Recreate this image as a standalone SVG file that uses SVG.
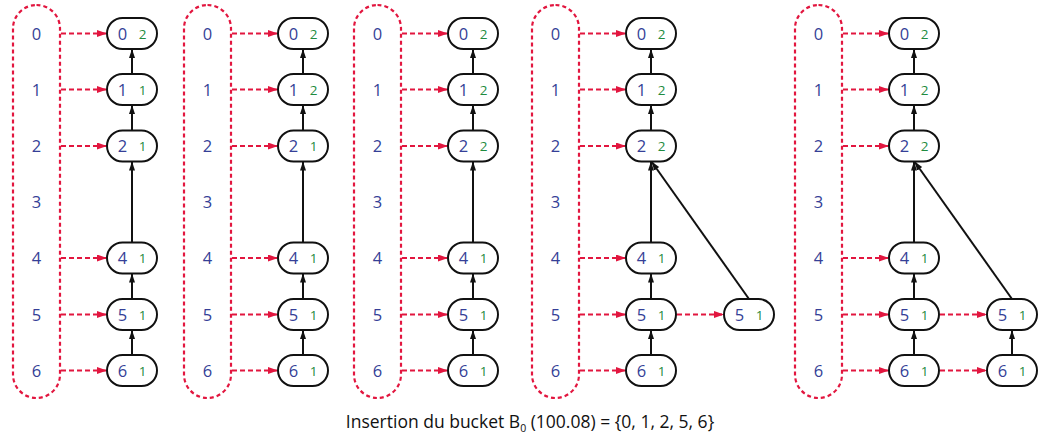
<svg xmlns="http://www.w3.org/2000/svg" width="1041" height="445" viewBox="0 0 1041 445">
<style>
.pill{fill:none;stroke:#e2163f;stroke-width:2.2;stroke-dasharray:4 3}
.lbl{font-family:"Open Sans","Noto Sans",sans-serif;font-size:16.5px;fill:#353f97;text-anchor:middle}
.box{fill:#fff;stroke:#111;stroke-width:2}
.k{font-family:"Open Sans","Noto Sans",sans-serif;font-size:16.5px;fill:#353f97;text-anchor:middle}
.c{font-family:"Open Sans","Noto Sans",sans-serif;font-size:13.5px;fill:#1f8b3f;text-anchor:middle}
.ptr{fill:none;stroke:#e2163f;stroke-width:2;stroke-dasharray:5 3;marker-end:url(#ra)}
.par{fill:none;stroke:#111;stroke-width:2;marker-end:url(#ba)}
.cap{font-family:"Open Sans","Noto Sans",sans-serif;font-size:17.5px;fill:#111}
</style>
<defs>
<marker id="ra" markerUnits="userSpaceOnUse" markerWidth="11" markerHeight="8" refX="10" refY="3.5" orient="auto"><path d="M0,0 L10,3.5 L0,7 z" fill="#e2163f"/></marker>
<marker id="ba" markerUnits="userSpaceOnUse" markerWidth="10" markerHeight="8" refX="9" refY="3" orient="auto"><path d="M0,0 L9,3 L0,6 z" fill="#111"/></marker>
<g id="bucket">
<rect class="pill" x="13" y="5" width="47" height="393" rx="23.5"/>
<text class="lbl" x="36.5" y="39.5">0</text><text class="lbl" x="36.5" y="95.5">1</text><text class="lbl" x="36.5" y="152">2</text><text class="lbl" x="36.5" y="208">3</text><text class="lbl" x="36.5" y="264">4</text><text class="lbl" x="36.5" y="320.5">5</text><text class="lbl" x="36.5" y="376.5">6</text>
</g>
</defs>
<rect width="1041" height="445" fill="#fff"/>

<g id="buckets">
<use id="p1-bucket" href="#bucket"/>
<use id="p2-bucket" href="#bucket" x="171"/>
<use id="p3-bucket" href="#bucket" x="341"/>
<use id="p4-bucket" href="#bucket" x="519"/>
<use id="p5-bucket" href="#bucket" x="782"/>
</g>

<g id="connectors">
<g transform="translate(0,0)">
<path class="ptr" d="M61,33.5H107"/><path class="ptr" d="M61,89.5H107"/><path class="ptr" d="M61,146H107"/><path class="ptr" d="M61,258H107"/><path class="ptr" d="M61,314.5H107"/><path class="ptr" d="M61,370.5H107"/>
<path class="par" d="M132,74V49"/><path class="par" d="M132,130.5V105"/><path class="par" d="M132,242.5V161.5"/><path class="par" d="M132,299V273.5"/><path class="par" d="M132,355V330"/>
</g>
<g transform="translate(171,0)">
<path class="ptr" d="M61,33.5H107"/><path class="ptr" d="M61,89.5H107"/><path class="ptr" d="M61,146H107"/><path class="ptr" d="M61,258H107"/><path class="ptr" d="M61,314.5H107"/><path class="ptr" d="M61,370.5H107"/>
<path class="par" d="M132,74V49"/><path class="par" d="M132,130.5V105"/><path class="par" d="M132,242.5V161.5"/><path class="par" d="M132,299V273.5"/><path class="par" d="M132,355V330"/>
</g>
<g transform="translate(341,0)">
<path class="ptr" d="M61,33.5H107"/><path class="ptr" d="M61,89.5H107"/><path class="ptr" d="M61,146H107"/><path class="ptr" d="M61,258H107"/><path class="ptr" d="M61,314.5H107"/><path class="ptr" d="M61,370.5H107"/>
<path class="par" d="M132,74V49"/><path class="par" d="M132,130.5V105"/><path class="par" d="M132,242.5V161.5"/><path class="par" d="M132,299V273.5"/><path class="par" d="M132,355V330"/>
</g>
<g transform="translate(519,0)">
<path class="ptr" d="M61,33.5H107"/><path class="ptr" d="M61,89.5H107"/><path class="ptr" d="M61,146H107"/><path class="ptr" d="M61,258H107"/><path class="ptr" d="M61,314.5H107"/><path class="ptr" d="M61,370.5H107"/>
<path class="ptr" d="M158,314.5H205"/>
<path class="par" d="M132,74V49"/><path class="par" d="M132,130.5V105"/><path class="par" d="M132,242.5V161.5"/><path class="par" d="M132,299V273.5"/><path class="par" d="M132,355V330"/>
<path class="par" d="M230,299L132.5,161.5"/>
</g>
<g transform="translate(782,0)">
<path class="ptr" d="M61,33.5H107"/><path class="ptr" d="M61,89.5H107"/><path class="ptr" d="M61,146H107"/><path class="ptr" d="M61,258H107"/><path class="ptr" d="M61,314.5H107"/><path class="ptr" d="M61,370.5H107"/>
<path class="ptr" d="M158,314.5H205"/><path class="ptr" d="M158,370.5H205"/>
<path class="par" d="M132,74V49"/><path class="par" d="M132,130.5V105"/><path class="par" d="M132,242.5V161.5"/><path class="par" d="M132,299V273.5"/><path class="par" d="M132,355V330"/>
<path class="par" d="M230,355V330"/>
<path class="par" d="M230,299L132.5,161.5"/>
</g>
</g>

<!-- Panel 1 -->
<g id="panel1" transform="translate(0,0)">
<g id="p1-n0"><rect class="box" x="107" y="18" width="50" height="31" rx="15.5"/><text class="k" x="122.5" y="39.5">0</text><text class="c" x="142.5" y="38.5">2</text></g>
<g id="p1-n1"><rect class="box" x="107" y="74" width="50" height="31" rx="15.5"/><text class="k" x="122.5" y="95.5">1</text><text class="c" x="142.5" y="94.5">1</text></g>
<g id="p1-n2"><rect class="box" x="107" y="130.5" width="50" height="31" rx="15.5"/><text class="k" x="122.5" y="152">2</text><text class="c" x="142.5" y="151">1</text></g>
<g id="p1-n4"><rect class="box" x="107" y="242.5" width="50" height="31" rx="15.5"/><text class="k" x="122.5" y="264">4</text><text class="c" x="142.5" y="263">1</text></g>
<g id="p1-n5"><rect class="box" x="107" y="299" width="50" height="31" rx="15.5"/><text class="k" x="122.5" y="320.5">5</text><text class="c" x="142.5" y="319.5">1</text></g>
<g id="p1-n6"><rect class="box" x="107" y="355" width="50" height="31" rx="15.5"/><text class="k" x="122.5" y="376.5">6</text><text class="c" x="142.5" y="375.5">1</text></g>
</g>

<!-- Panel 2 -->
<g id="panel2" transform="translate(171,0)">
<g id="p2-n0"><rect class="box" x="107" y="18" width="50" height="31" rx="15.5"/><text class="k" x="122.5" y="39.5">0</text><text class="c" x="142.5" y="38.5">2</text></g>
<g id="p2-n1"><rect class="box" x="107" y="74" width="50" height="31" rx="15.5"/><text class="k" x="122.5" y="95.5">1</text><text class="c" x="142.5" y="94.5">2</text></g>
<g id="p2-n2"><rect class="box" x="107" y="130.5" width="50" height="31" rx="15.5"/><text class="k" x="122.5" y="152">2</text><text class="c" x="142.5" y="151">1</text></g>
<g id="p2-n4"><rect class="box" x="107" y="242.5" width="50" height="31" rx="15.5"/><text class="k" x="122.5" y="264">4</text><text class="c" x="142.5" y="263">1</text></g>
<g id="p2-n5"><rect class="box" x="107" y="299" width="50" height="31" rx="15.5"/><text class="k" x="122.5" y="320.5">5</text><text class="c" x="142.5" y="319.5">1</text></g>
<g id="p2-n6"><rect class="box" x="107" y="355" width="50" height="31" rx="15.5"/><text class="k" x="122.5" y="376.5">6</text><text class="c" x="142.5" y="375.5">1</text></g>
</g>

<!-- Panel 3 -->
<g id="panel3" transform="translate(341,0)">
<g id="p3-n0"><rect class="box" x="107" y="18" width="50" height="31" rx="15.5"/><text class="k" x="122.5" y="39.5">0</text><text class="c" x="142.5" y="38.5">2</text></g>
<g id="p3-n1"><rect class="box" x="107" y="74" width="50" height="31" rx="15.5"/><text class="k" x="122.5" y="95.5">1</text><text class="c" x="142.5" y="94.5">2</text></g>
<g id="p3-n2"><rect class="box" x="107" y="130.5" width="50" height="31" rx="15.5"/><text class="k" x="122.5" y="152">2</text><text class="c" x="142.5" y="151">2</text></g>
<g id="p3-n4"><rect class="box" x="107" y="242.5" width="50" height="31" rx="15.5"/><text class="k" x="122.5" y="264">4</text><text class="c" x="142.5" y="263">1</text></g>
<g id="p3-n5"><rect class="box" x="107" y="299" width="50" height="31" rx="15.5"/><text class="k" x="122.5" y="320.5">5</text><text class="c" x="142.5" y="319.5">1</text></g>
<g id="p3-n6"><rect class="box" x="107" y="355" width="50" height="31" rx="15.5"/><text class="k" x="122.5" y="376.5">6</text><text class="c" x="142.5" y="375.5">1</text></g>
</g>

<!-- Panel 4 -->
<g id="panel4" transform="translate(519,0)">
<g id="p4-n0"><rect class="box" x="107" y="18" width="50" height="31" rx="15.5"/><text class="k" x="122.5" y="39.5">0</text><text class="c" x="142.5" y="38.5">2</text></g>
<g id="p4-n1"><rect class="box" x="107" y="74" width="50" height="31" rx="15.5"/><text class="k" x="122.5" y="95.5">1</text><text class="c" x="142.5" y="94.5">2</text></g>
<g id="p4-n2"><rect class="box" x="107" y="130.5" width="50" height="31" rx="15.5"/><text class="k" x="122.5" y="152">2</text><text class="c" x="142.5" y="151">2</text></g>
<g id="p4-n4"><rect class="box" x="107" y="242.5" width="50" height="31" rx="15.5"/><text class="k" x="122.5" y="264">4</text><text class="c" x="142.5" y="263">1</text></g>
<g id="p4-n5"><rect class="box" x="107" y="299" width="50" height="31" rx="15.5"/><text class="k" x="122.5" y="320.5">5</text><text class="c" x="142.5" y="319.5">1</text></g>
<g id="p4-n6"><rect class="box" x="107" y="355" width="50" height="31" rx="15.5"/><text class="k" x="122.5" y="376.5">6</text><text class="c" x="142.5" y="375.5">1</text></g>
<g id="p4-x5"><rect class="box" x="205" y="299" width="50" height="31" rx="15.5"/><text class="k" x="220.5" y="320.5">5</text><text class="c" x="240.5" y="319.5">1</text></g>
</g>

<!-- Panel 5 -->
<g id="panel5" transform="translate(782,0)">
<g id="p5-n0"><rect class="box" x="107" y="18" width="50" height="31" rx="15.5"/><text class="k" x="122.5" y="39.5">0</text><text class="c" x="142.5" y="38.5">2</text></g>
<g id="p5-n1"><rect class="box" x="107" y="74" width="50" height="31" rx="15.5"/><text class="k" x="122.5" y="95.5">1</text><text class="c" x="142.5" y="94.5">2</text></g>
<g id="p5-n2"><rect class="box" x="107" y="130.5" width="50" height="31" rx="15.5"/><text class="k" x="122.5" y="152">2</text><text class="c" x="142.5" y="151">2</text></g>
<g id="p5-n4"><rect class="box" x="107" y="242.5" width="50" height="31" rx="15.5"/><text class="k" x="122.5" y="264">4</text><text class="c" x="142.5" y="263">1</text></g>
<g id="p5-n5"><rect class="box" x="107" y="299" width="50" height="31" rx="15.5"/><text class="k" x="122.5" y="320.5">5</text><text class="c" x="142.5" y="319.5">1</text></g>
<g id="p5-n6"><rect class="box" x="107" y="355" width="50" height="31" rx="15.5"/><text class="k" x="122.5" y="376.5">6</text><text class="c" x="142.5" y="375.5">1</text></g>
<g id="p5-x5"><rect class="box" x="205" y="299" width="50" height="31" rx="15.5"/><text class="k" x="220.5" y="320.5">5</text><text class="c" x="240.5" y="319.5">1</text></g>
<g id="p5-x6"><rect class="box" x="205" y="355" width="50" height="31" rx="15.5"/><text class="k" x="220.5" y="376.5">6</text><text class="c" x="240.5" y="375.5">1</text></g>
</g>

<g id="caption"><text class="cap" x="530" y="428" text-anchor="middle">Insertion du bucket B<tspan font-size="10.5" dy="4">0</tspan><tspan dy="-4"> (100.08) = {0, 1, 2, 5, 6}</tspan></text></g>
</svg>
